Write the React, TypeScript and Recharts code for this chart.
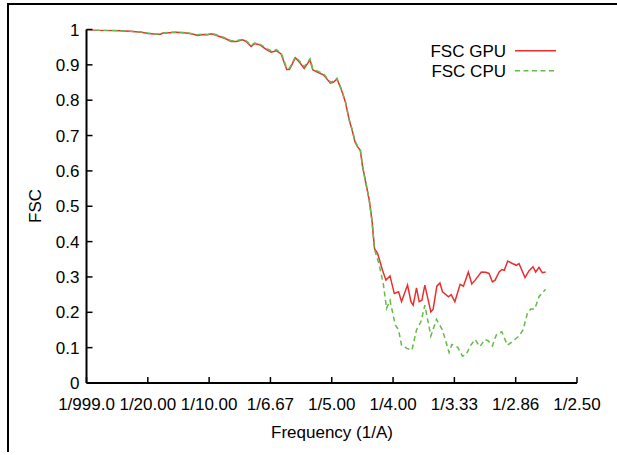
import React from 'react';
import { LineChart, Line, XAxis, YAxis, Legend } from 'recharts';

const gpuFreq = [
  0, 0.0108, 0.0231, 0.0352, 0.0448, 0.0501, 0.0556, 0.0597, 0.0624, 0.0678,
  0.0733, 0.0814, 0.0865, 0.0908, 0.0949, 0.099, 0.1018, 0.1052, 0.1085, 0.114,
  0.118, 0.1221, 0.1275, 0.1302, 0.1343, 0.137, 0.1411, 0.1448, 0.1478, 0.1506,
  0.1547, 0.1587, 0.1633, 0.1655, 0.1704, 0.1742, 0.1775, 0.1823, 0.1845, 0.1885,
  0.1932, 0.1989, 0.2015, 0.2043, 0.2076, 0.2111, 0.2143, 0.2165, 0.219, 0.2211,
  0.2233, 0.2252, 0.2279, 0.2306, 0.2328, 0.2349, 0.2374, 0.2414, 0.2442, 0.2475,
  0.251, 0.2545, 0.2569, 0.2618, 0.2646, 0.2664, 0.2691, 0.2713, 0.2735, 0.2759,
  0.2808, 0.2827, 0.2857, 0.2882, 0.2903, 0.2952, 0.2974, 0.3004, 0.3047, 0.3074,
  0.3114, 0.3142, 0.3169, 0.322, 0.3256, 0.3283, 0.331, 0.3332, 0.3365, 0.3387,
  0.3407, 0.3435, 0.3473, 0.3505, 0.3527, 0.3576, 0.3608, 0.3641, 0.3663, 0.369,
  0.3717, 0.3744,
];
const gpuFsc = [
  1.0, 0.998, 0.997, 0.995, 0.992, 0.989, 0.987, 0.986, 0.99, 0.991,
  0.992, 0.99, 0.987, 0.983, 0.986, 0.985, 0.988, 0.984, 0.98, 0.973,
  0.966, 0.966, 0.971, 0.966, 0.952, 0.96, 0.957, 0.948, 0.941, 0.936,
  0.94, 0.931, 0.887, 0.887, 0.92, 0.905, 0.89, 0.914, 0.886, 0.879,
  0.872, 0.848, 0.851, 0.86, 0.832, 0.795, 0.743, 0.717, 0.682, 0.668,
  0.658, 0.611, 0.564, 0.517, 0.46, 0.38, 0.366, 0.319, 0.291, 0.303,
  0.253, 0.258, 0.23, 0.277, 0.23, 0.22, 0.269, 0.23, 0.234, 0.277,
  0.201, 0.209, 0.274, 0.283, 0.258, 0.244, 0.25, 0.23, 0.279, 0.274,
  0.314, 0.28, 0.291, 0.314, 0.313, 0.31, 0.286, 0.291, 0.314, 0.321,
  0.319, 0.345, 0.338, 0.333, 0.338, 0.298, 0.317, 0.329, 0.314, 0.327,
  0.312, 0.314,
];

const cpuFreq = [
  0, 0.0108, 0.0231, 0.0352, 0.0448, 0.0501, 0.0556, 0.0597, 0.0624, 0.0678,
  0.0733, 0.0814, 0.0865, 0.0908, 0.0949, 0.099, 0.1018, 0.1052, 0.1085, 0.114,
  0.118, 0.1221, 0.1275, 0.1302, 0.1343, 0.137, 0.1411, 0.1448, 0.1478, 0.1506,
  0.1547, 0.1587, 0.1633, 0.1655, 0.1704, 0.1742, 0.1775, 0.1823, 0.1845, 0.1885,
  0.1932, 0.1989, 0.2015, 0.2043, 0.2076, 0.2111, 0.2143, 0.2165, 0.219, 0.2211,
  0.2233, 0.2252, 0.2279, 0.2306, 0.2328, 0.2349, 0.2384, 0.242, 0.2447, 0.2475,
  0.2518, 0.2545, 0.2569, 0.2613, 0.2654, 0.2691, 0.2727, 0.2759, 0.2808, 0.2854,
  0.2903, 0.2957, 0.2979, 0.3028, 0.3066, 0.3093, 0.3134, 0.3169, 0.3207, 0.325,
  0.3277, 0.331, 0.3342, 0.3387, 0.3432, 0.3473, 0.3527, 0.356, 0.3595, 0.3622,
  0.3655, 0.369, 0.3712, 0.3744,
];
const cpuFsc = [
  1.0, 0.998, 0.997, 0.995, 0.993, 0.99, 0.988, 0.987, 0.99, 0.992,
  0.992, 0.991, 0.988, 0.985, 0.987, 0.986, 0.989, 0.986, 0.982, 0.975,
  0.968, 0.968, 0.972, 0.968, 0.955, 0.962, 0.959, 0.951, 0.944, 0.94,
  0.943, 0.934, 0.89, 0.89, 0.923, 0.909, 0.895, 0.917, 0.89, 0.882,
  0.875, 0.851, 0.854, 0.862, 0.834, 0.797, 0.745, 0.719, 0.684, 0.67,
  0.659, 0.612, 0.565, 0.516, 0.458, 0.378, 0.338, 0.282, 0.211, 0.234,
  0.164, 0.15, 0.107, 0.098, 0.093, 0.15, 0.173, 0.22, 0.133, 0.18,
  0.15, 0.086, 0.109, 0.101, 0.076, 0.079, 0.107, 0.123, 0.103, 0.123,
  0.119, 0.105, 0.136, 0.145, 0.107, 0.117, 0.133, 0.15, 0.197, 0.209,
  0.209, 0.244, 0.253, 0.265,
];

const seriesNames = ['FSC GPU', 'FSC CPU'];
const xTicks = [0, 0.05, 0.1, 0.15, 0.2, 0.25, 0.3, 0.35, 0.4];
const xTickLabels = ['1/999.0', '1/20.00', '1/10.00', '1/6.67', '1/5.00', '1/4.00', '1/3.33', '1/2.86', '1/2.50'];
const yTicks = [0, 0.1, 0.2, 0.3, 0.4, 0.5, 0.6, 0.7, 0.8, 0.9, 1];
const yTickLabels = ['0', '0.1', '0.2', '0.3', '0.4', '0.5', '0.6', '0.7', '0.8', '0.9', '1'];

const gpuData = gpuFreq.map((f, i) => ({ f, v: gpuFsc[i] }));
const cpuData = cpuFreq.map((f, i) => ({ f, v: cpuFsc[i] }));

const FONT = '"Liberation Sans", Arial, Helvetica, sans-serif';
const FS = 17;
const TICK = 6;

const BottomTick = (p: any) => {
  const idx = xTicks.findIndex((t) => Math.abs(t - p.payload.value) < 1e-9);
  return (
    <g>
      <line x1={p.x} y1={p.y} x2={p.x} y2={p.y - TICK} stroke="#000" strokeWidth={1.5} />
      <text x={p.x} y={p.y + 26.5} textAnchor="middle" fontSize={FS} fontFamily={FONT} fill="#000">
        {xTickLabels[idx]}
      </text>
    </g>
  );
};
const TopTick = (p: any) => (
  <line x1={p.x} y1={p.y} x2={p.x} y2={p.y + TICK} stroke="#000" strokeWidth={1.5} />
);
const LeftTick = (p: any) => {
  const idx = yTicks.findIndex((t) => Math.abs(t - p.payload.value) < 1e-9);
  return (
    <g>
      <line x1={p.x} y1={p.y} x2={p.x + TICK} y2={p.y} stroke="#000" strokeWidth={1.5} />
      <text x={p.x - 7} y={p.y + 6} textAnchor="end" fontSize={FS} fontFamily={FONT} fill="#000">
        {yTickLabels[idx]}
      </text>
    </g>
  );
};
const RightTick = (p: any) => (
  <line x1={p.x} y1={p.y} x2={p.x - TICK} y2={p.y} stroke="#000" strokeWidth={1.5} />
);

const LegendContent = (props: any) => {
  const items = [...(props.payload || [])].sort(
    (a: any, b: any) => seriesNames.indexOf(a.value) - seriesNames.indexOf(b.value)
  );
  return (
    <svg width={200} height={50} style={{ display: 'block' }}>
      {items.map((it: any, i: number) => (
        <g key={it.value}>
          <text x={126} y={21 + i * 20} textAnchor="end" fontSize={FS} fontFamily={FONT} fill="#000">
            {it.value}
          </text>
          <line
            x1={135}
            x2={176}
            y1={14.7 + i * 20}
            y2={14.7 + i * 20}
            stroke={it.color}
            strokeWidth={1.5}
            strokeDasharray={it.value === 'FSC CPU' ? '5 3.5' : undefined}
          />
        </g>
      ))}
    </svg>
  );
};

export default function App() {
  return (
    <div style={{ position: 'absolute', left: 0, top: 0, width: 617, height: 455, overflow: 'hidden', background: '#fff' }}>
      <div
        style={{
          position: 'absolute',
          left: 7,
          top: 3,
          width: 700,
          height: 449,
          borderLeft: '2px solid #000',
          borderTop: '2px solid #000',
          boxSizing: 'border-box',
        }}
      />
      <div style={{ position: 'absolute', left: 0, top: 0 }}>
        <LineChart width={617} height={455} margin={{ top: 29.5, right: 40, bottom: 22, left: 46.5 }}>
          <XAxis
            xAxisId="b"
            dataKey="f"
            type="number"
            domain={[0, 0.4]}
            ticks={xTicks}
            interval={0}
            allowDataOverflow
            height={50}
            tickSize={0}
            tickMargin={0}
            tickLine={false}
            tick={(p: any) => <BottomTick {...p} />}
            axisLine={{ stroke: '#000', strokeWidth: 2 }}
            label={() => (
              <text x={332} y={438} textAnchor="middle" fontSize={FS} fontFamily={FONT} fill="#000">
                Frequency (1/A)
              </text>
            )}
          />
          <XAxis
            xAxisId="t"
            orientation="top"
            dataKey="f"
            type="number"
            domain={[0, 0.4]}
            ticks={xTicks}
            interval={0}
            allowDataOverflow
            height={0}
            tickSize={0}
            tickMargin={0}
            tickLine={false}
            tick={(p: any) => <TopTick {...p} />}
            axisLine={{ stroke: '#000', strokeWidth: 2 }}
          />
          <YAxis
            yAxisId="l"
            type="number"
            domain={[0, 1]}
            ticks={yTicks}
            interval={0}
            allowDataOverflow
            width={40}
            tickSize={0}
            tickMargin={0}
            tickLine={false}
            tick={(p: any) => <LeftTick {...p} />}
            axisLine={{ stroke: '#000', strokeWidth: 2 }}
            label={() => (
              <text
                x={35}
                y={206}
                transform="rotate(-90 35 206)"
                textAnchor="middle"
                dominantBaseline="central"
                fontSize={FS}
                fontFamily={FONT}
                fill="#000"
              >
                FSC
              </text>
            )}
          />
          <YAxis
            yAxisId="r"
            orientation="right"
            type="number"
            domain={[0, 1]}
            ticks={yTicks}
            interval={0}
            allowDataOverflow
            width={0}
            tickSize={0}
            tickMargin={0}
            tickLine={false}
            tick={(p: any) => <RightTick {...p} />}
            axisLine={{ stroke: '#000', strokeWidth: 2 }}
          />
          <Legend
            layout="horizontal"
            verticalAlign="middle"
            align="center"
            content={(p: any) => <LegendContent {...p} />}
            wrapperStyle={{ position: 'absolute', left: 380, top: 36, width: 200, height: 50 }}
          />
          <Line
            xAxisId="b"
            yAxisId="l"
            data={gpuData}
            dataKey="v"
            name="FSC GPU"
            type="linear"
            stroke="#e8302e"
            strokeWidth={1.5}
            dot={false}
            isAnimationActive={false}
          />
          <Line
            xAxisId="t"
            yAxisId="r"
            data={cpuData}
            dataKey="v"
            name="FSC CPU"
            type="linear"
            stroke="#64bb48"
            strokeWidth={1.5}
            strokeDasharray="5 3.5"
            dot={false}
            isAnimationActive={false}
          />
        </LineChart>
      </div>
    </div>
  );
}
